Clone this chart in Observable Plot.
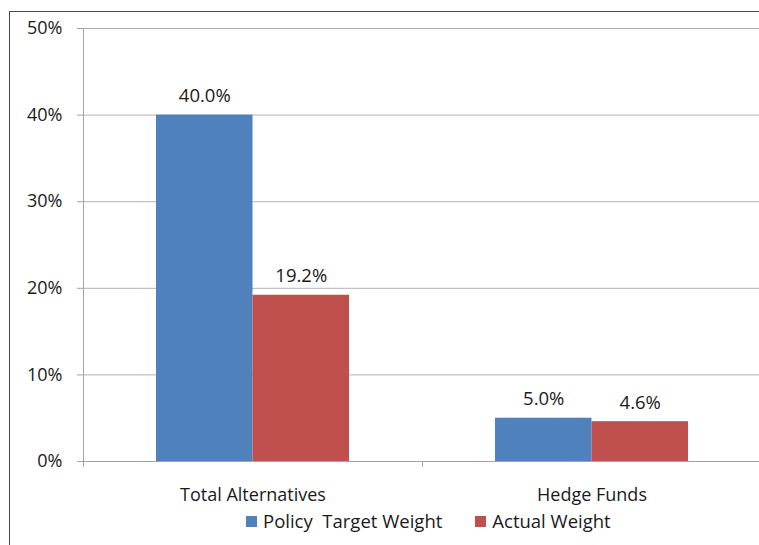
<!DOCTYPE html>
<html><head><meta charset="utf-8">
<script src="https://cdn.jsdelivr.net/npm/d3@7"></script>
<script src="https://cdn.jsdelivr.net/npm/@observablehq/plot@0.6"></script>
<style>
html,body{margin:0;padding:0;background:#fff;overflow:hidden;width:759px;height:545px;}
#wrap{position:relative;width:759px;height:545px;overflow:hidden;font-family:"Open Sans",sans-serif;color:#1a1a1a;}
#chart{position:absolute;left:0;top:0;width:770px;}
#chart svg{max-width:none !important;}
#frame{position:absolute;left:9px;top:11px;width:800px;height:600px;border-left:1px solid #4a4a4a;border-top:1px solid #4a4a4a;pointer-events:none;}
#legend{position:absolute;left:246px;top:511px;display:flex;align-items:center;font-size:18.5px;line-height:20px;white-space:pre;}
#legend .item{display:flex;align-items:center;}
#legend .sw{width:11px;height:11px;margin-right:6px;}
</style></head>
<body><div id="wrap"><div id="chart"></div><div id="frame"></div><div id="legend"></div></div>
<script>
const categories = ["Total Alternatives", "Hedge Funds"];
const series = ["Policy  Target Weight", "Actual Weight"];
const policyValues = [40.0, 5.0];
const actualValues = [19.2, 4.6];
const yTicks = [0, 10, 20, 30, 40, 50];
const colors = ["#4F81BD", "#C0504D"];

const W = 770, H = 545, ML = 83, MR = 9, MT = 28, MB = 84;
const bw = (W - ML - MR) / categories.length;
const sub = d3.scaleBand().domain(series).range([0, bw]).paddingInner(0).paddingOuter(0.756);
const tickLen = 6 / ((H - MT - MB) / 50);

const valuesBySeries = [policyValues, actualValues];
const rows = [];
series.forEach((s, i) => categories.forEach((c, j) => rows.push({category: c, series: s, value: valuesBySeries[i][j]})));

const barMarks = series.map((s, i) => Plot.barY(rows.filter(r => r.series === s), {
  x: "category", y: "value", fill: colors[i],
  insetLeft: sub(s), insetRight: bw - sub(s) - sub.bandwidth()
}));
const labelMarks = series.map((s, i) => Plot.text(rows.filter(r => r.series === s), {
  x: "category", y: "value", text: d => d.value.toFixed(1) + "%",
  dx: sub(s) + sub.bandwidth() / 2 - bw / 2, dy: -13, lineAnchor: "bottom",
  fontSize: 18.5, fill: "#1a1a1a"
}));

const chart = Plot.plot({
  width: W, height: H,
  marginLeft: ML, marginRight: MR, marginTop: MT, marginBottom: MB,
  style: {fontFamily: "'Open Sans', sans-serif", background: "transparent", overflow: "visible", maxWidth: "none"},
  x: {type: "band", domain: categories, padding: 0, axis: null, label: null},
  y: {domain: [0, 50], axis: null, label: null},
  marks: [
    Plot.gridY(yTicks, {stroke: "#b3b3b3", strokeOpacity: 1}),
    ...barMarks,
    Plot.ruleY([0], {stroke: "#a3a3a3"}),
    Plot.ruleX([categories[0]], {x: d => d, dx: -bw / 2, y1: 50, y2: -tickLen, stroke: "#a3a3a3"}),
    Plot.ruleX([categories[1]], {x: d => d, dx: -bw / 2, y1: 0, y2: -tickLen, stroke: "#a3a3a3"}),
    Plot.axisY(yTicks, {tickFormat: d => d + "%", tickSize: 6, tickPadding: 15, fontSize: 18, stroke: "#a3a3a3", fill: "#1a1a1a", label: null}),
    Plot.axisX({tickSize: 0, tickPadding: 27, fontSize: 18, fill: "#1a1a1a", label: null}),
    ...labelMarks
  ]
});
document.getElementById("chart").appendChild(chart);

const legend = document.getElementById("legend");
series.forEach((s, i) => {
  const item = document.createElement("div");
  item.className = "item";
  item.style.marginRight = i === 0 ? "33px" : "0";
  const sw = document.createElement("span");
  sw.className = "sw";
  sw.style.background = colors[i];
  const t = document.createElement("span");
  t.textContent = s;
  item.appendChild(sw); item.appendChild(t);
  legend.appendChild(item);
});
</script>
</body></html>
